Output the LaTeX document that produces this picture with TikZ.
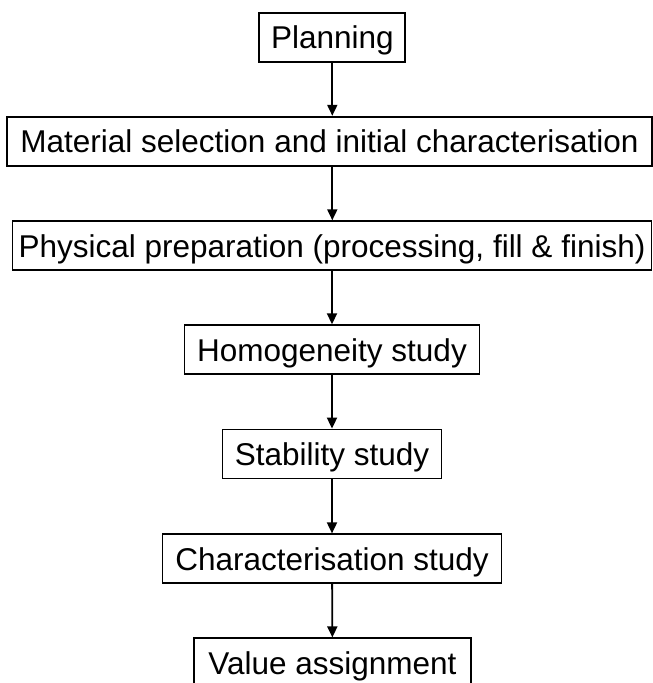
\documentclass[tikz,border=0pt]{standalone}
\usepackage{fontspec}
\setmainfont{Liberation Sans}
\usetikzlibrary{arrows.meta}
\begin{document}
\begin{tikzpicture}[x=1pt,y=-1pt,
  stagebox/.style={draw=black, line width=1.8pt, fill=white, inner sep=0pt,
    font=\fontsize{31.5pt}{34pt}\selectfont, text height=22.6pt, text depth=0pt,
    minimum height=49pt, anchor=center},
  flow/.style={line width=1.8pt, -{Triangle[width=10pt,length=11pt]}}]
\useasboundingbox (0,0) rectangle (653,683);
\node[stagebox, minimum width=146pt] (plan) at (332.3,37.3) {Planning};
\node[stagebox, minimum width=645pt] (mat) at (329.5,141.2) {Material selection and initial characterisation};
\node[stagebox, minimum width=639pt] (phys) at (332,245.7) {Physical preparation (processing, fill \& finish)};
\node[stagebox, minimum width=295pt] (hom) at (332,349.7) {Homogeneity study};
\node[stagebox, minimum width=219pt] (stab) at (332,454) {Stability study};
\node[stagebox, minimum width=339pt] (char) at (332,558.8) {Characterisation study};
\node[stagebox, minimum width=277pt] (val) at (332.5,662.8) {Value assignment};
\draw[flow] (plan) -- (plan |- mat.north);
\draw[flow] (mat.south -| plan) -- (phys.north -| plan);
\draw[flow] (phys) -- (hom);
\draw[flow] (hom) -- (stab);
\draw[flow] (stab) -- (char);
\draw[flow] (char) -- (val);
\end{tikzpicture}
\end{document}
